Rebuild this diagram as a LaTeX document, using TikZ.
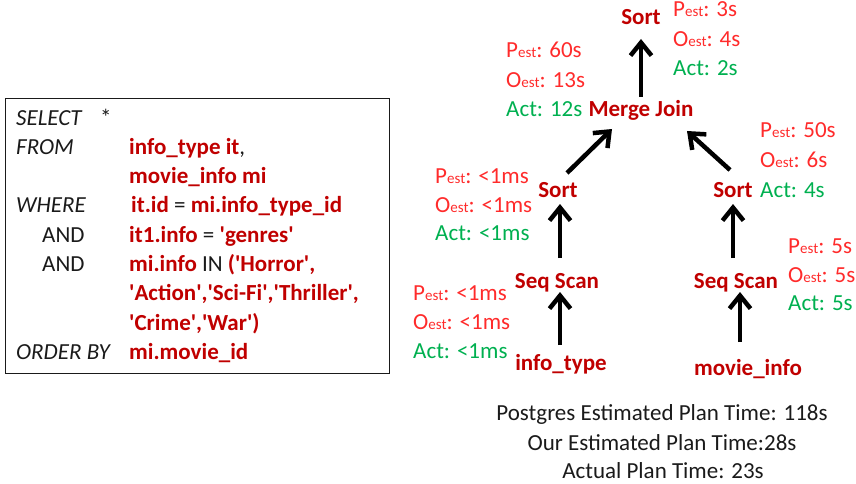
\documentclass[tikz,border=0pt]{standalone}
\usepackage{fontspec}
\setmainfont{Carlito}
\usetikzlibrary{arrows.meta,calc}
\definecolor{dred}{HTML}{C00000}
\definecolor{sred}{HTML}{FF2B2B}
\definecolor{sgreen}{HTML}{00B050}
\definecolor{ink}{HTML}{1A1A1A}
\newcommand{\estsub}{{\fontsize{15}{15}\selectfont est}}
\newcommand{\rb}[1]{\textcolor{dred}{\bfseries #1}}
\newcommand{\q}{\textquotesingle}
\begin{document}
\begin{tikzpicture}[x=1pt,y=-1pt,
  font=\fontsize{23}{28}\selectfont,
  op/.style={font=\fontsize{23}{28}\selectfont\bfseries, text=dred, inner sep=0pt, anchor=base},
  st/.style={text=sred, inner sep=0pt, anchor=base west},
  ac/.style={text=sgreen, inner sep=0pt, anchor=base west},
  kw/.style={text=ink, inner sep=0pt, anchor=base west, font=\fontsize{23}{28}\selectfont\itshape},
  sq/.style={text=ink, inner sep=0pt, anchor=base west},
  tot/.style={text=ink, inner sep=0pt, anchor=base},
  arr/.style={line width=4.5pt, -{Straight Barb[length=13pt,width=21pt]}}]
\useasboundingbox (0,0) rectangle (856,484);
% SQL box
\node[draw=ink, line width=1.2pt, minimum width=384pt, minimum height=275pt, anchor=north west, inner sep=0pt] (sqlbox) at (5,98) {};
\node[kw] (k1) at (16,125) {SELECT};
\node[sq] (star) at (100,125) {*};
\node[kw] (k2) at (16,154.3) {FROM};
\node[sq] (l2) at (129,154.3) {\rb{info\_type it},};
\node[sq] (l3) at (129,183.6) {\rb{movie\_info mi}};
\node[kw] (k4) at (16,212.9) {WHERE};
\node[sq] (l4) at (131,212.9) {\rb{it.id} = \rb{mi.info\_type\_id}};
\node[sq] (k5) at (42,242.2) {AND};
\node[sq] (l5) at (129,242.2) {\rb{it1.info} = \rb{\q genres\q}};
\node[sq] (k6) at (42,271.5) {AND};
\node[sq] (l6) at (129,271.5) {\rb{mi.info} IN \rb{(\q Horror\q,}};
\node[sq] (l7) at (129,300.8) {\rb{\q Action\q,\q Sci-Fi\q,\q Thriller\q,}};
\node[sq] (l8) at (129,330.1) {\rb{\q Crime\q,\q War\q)}};
\node[kw] (k9) at (16,359.4) {ORDER BY};
\node[sq] (l9) at (129,359.4) {\rb{mi.movie\_id}};
% plan operators
\node[op] (sortTop) at (641,25) {Sort};
\node[op] (merge) at (641,117) {Merge Join};
\node[op] (sortL) at (558,197) {Sort};
\node[op] (sortR) at (733,197) {Sort};
\node[op] (seqL) at (557,288) {Seq Scan};
\node[op] (seqR) at (736,288) {Seq Scan};
\node[op] (infotype) at (561,370) {info\_type};
\node[op] (movie) at (748,375) {movie\_info};
% stats
\node[st] (tP) at (673,17) {P\estsub: 3s};
\node[st] (tO) at (673,46.5) {O\estsub: 4s};
\node[ac] (tA) at (673,76) {Act: 2s};
\node[st] (mP) at (506,58) {P\estsub: 60s};
\node[st] (mO) at (506,87.5) {O\estsub: 13s};
\node[ac] (mA) at (506,117) {Act: 12s};
\node[st] (lP) at (435,183) {P\estsub: <1ms};
\node[st] (lO) at (435,212) {O\estsub: <1ms};
\node[ac] (lA) at (435,240.5) {Act: <1ms};
\node[st] (rP) at (760,137.5) {P\estsub: 50s};
\node[st] (rO) at (760,167) {O\estsub: 6s};
\node[ac] (rA) at (760,197) {Act: 4s};
\node[st] (sP) at (413,300) {P\estsub: <1ms};
\node[st] (sO) at (413,329.5) {O\estsub: <1ms};
\node[ac] (sA) at (413,358.5) {Act: <1ms};
\node[st] (qP) at (788,253) {P\estsub: 5s};
\node[st] (qO) at (788,282) {O\estsub: 5s};
\node[ac] (qA) at (788,310.5) {Act: 5s};
% arrows
\draw[arr] ([yshift=20pt]merge.base) -- ([yshift=-14pt]sortTop.base);
\draw[arr] ([xshift=9pt,yshift=24pt]sortL.base) -- ([xshift=-29pt,yshift=-12pt]merge.base);
\draw[arr] ([xshift=-3pt,yshift=27pt]sortR.base) -- ([xshift=46pt,yshift=-14pt]merge.base);
\draw[arr] ([xshift=3pt,yshift=30pt]seqL.base) -- ([xshift=2pt,yshift=-7pt]sortL.base);
\draw[arr] ([xshift=-3pt,yshift=30pt]seqR.base) -- ([yshift=-7pt]sortR.base);
\draw[arr] ([xshift=-1pt,yshift=25pt]infotype.base) -- ([xshift=3pt,yshift=-4pt]seqL.base);
\draw[arr] ([xshift=-8pt,yshift=33pt]movie.base) -- ([xshift=4pt,yshift=-4pt]seqR.base);
% totals
\node[tot] (t1) at (662,420) {Postgres Estimated Plan Time: 118s};
\node[tot] (t2) at (662,450) {Our Estimated Plan Time:28s};
\node[tot] (t3) at (663,478) {Actual Plan Time: 23s};
\end{tikzpicture}
\end{document}
